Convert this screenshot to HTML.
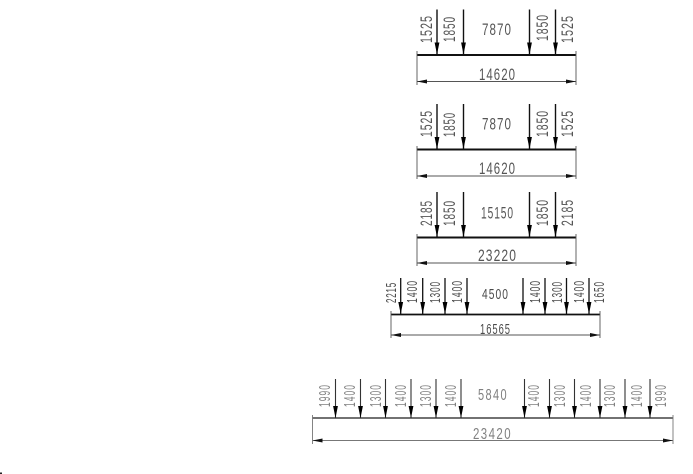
<!DOCTYPE html>
<html><head><meta charset="utf-8"><style>
html,body{margin:0;padding:0;background:#fff;width:693px;height:474px;overflow:hidden}
svg{display:block}
text{font-family:"Liberation Sans",sans-serif;fill:#555;font-size:16.5px;letter-spacing:1.5px}
.s{font-size:14.5px;fill:#4a4a4a}
.l{fill:#808080;font-size:16px;letter-spacing:2px}
</style></head><body>
<svg width="693" height="474" viewBox="0 0 693 474" xmlns="http://www.w3.org/2000/svg">
<defs>
<path id="a" d="M0 0V-45" stroke="#111" stroke-width="1.4" fill="none"/>
<path id="h" d="M-2.4 -12H2.4L0 0Z" fill="#000"/>
<path id="dl" d="M0 0L10 -2V2Z" fill="#111"/>
<path id="dr" d="M0 0L-10 -2V2Z" fill="#111"/>
</defs>
<rect x="0" y="472.5" width="2" height="1.5" fill="#222"/>

<!-- 1 -->
<g>
<path d="M417 55H576" stroke="#111" stroke-width="2"/>
<path d="M417 51V85M576 51V85M417 81.5H576" stroke="#555" stroke-width=".9" fill="none"/>
<g transform="translate(0,54.5)"><use href="#a" x="437"/><use href="#h" x="437"/><use href="#a" x="463.5"/><use href="#h" x="463.5"/><use href="#a" x="529.5"/><use href="#h" x="529.5"/><use href="#a" x="555.5"/><use href="#h" x="555.5"/></g>
<use href="#dl" x="417" y="81.5"/><use href="#dr" x="576" y="81.5"/>
<text transform="translate(432,43) rotate(-90)" textLength="28" lengthAdjust="spacingAndGlyphs">1525</text>
<text transform="translate(455,42) rotate(-90)" textLength="26" lengthAdjust="spacingAndGlyphs">1850</text>
<text transform="translate(548,41) rotate(-90)" textLength="27" lengthAdjust="spacingAndGlyphs">1850</text>
<text transform="translate(573,43) rotate(-90)" textLength="28" lengthAdjust="spacingAndGlyphs">1525</text>
<text x="482" y="35" textLength="30" lengthAdjust="spacingAndGlyphs">7870</text>
<text x="479" y="80" textLength="37" lengthAdjust="spacingAndGlyphs">14620</text>
</g>

<!-- 2 -->
<g>
<path d="M417 149.5H576" stroke="#111" stroke-width="2"/>
<path d="M417 146V179M576 146V179M417 176H576" stroke="#555" stroke-width=".9" fill="none"/>
<g transform="translate(0,149)"><use href="#a" x="437"/><use href="#h" x="437"/><use href="#a" x="463.5"/><use href="#h" x="463.5"/><use href="#a" x="529.5"/><use href="#h" x="529.5"/><use href="#a" x="555.5"/><use href="#h" x="555.5"/></g>
<use href="#dl" x="417" y="176"/><use href="#dr" x="576" y="176"/>
<text transform="translate(432,137) rotate(-90)" textLength="27" lengthAdjust="spacingAndGlyphs">1525</text>
<text transform="translate(455,137) rotate(-90)" textLength="25" lengthAdjust="spacingAndGlyphs">1850</text>
<text transform="translate(548,137) rotate(-90)" textLength="27" lengthAdjust="spacingAndGlyphs">1850</text>
<text transform="translate(573,137) rotate(-90)" textLength="27" lengthAdjust="spacingAndGlyphs">1525</text>
<text x="482" y="129.5" textLength="30" lengthAdjust="spacingAndGlyphs">7870</text>
<text x="479" y="174" textLength="37" lengthAdjust="spacingAndGlyphs">14620</text>
</g>

<!-- 3 -->
<g>
<path d="M417 237.5H576" stroke="#111" stroke-width="2"/>
<path d="M417 234V266M576 234V266M417 263H576" stroke="#555" stroke-width=".9" fill="none"/>
<g transform="translate(0,237)"><use href="#a" x="437" y="0"/><use href="#h" x="437"/><use href="#a" x="463.5"/><use href="#h" x="463.5"/><use href="#a" x="529.5"/><use href="#h" x="529.5"/><use href="#a" x="555.5"/><use href="#h" x="555.5"/></g>
<use href="#dl" x="417" y="263"/><use href="#dr" x="576" y="263"/>
<text transform="translate(432,226) rotate(-90)" textLength="26" lengthAdjust="spacingAndGlyphs">2185</text>
<text transform="translate(455,226) rotate(-90)" textLength="26" lengthAdjust="spacingAndGlyphs">1850</text>
<text transform="translate(548,226) rotate(-90)" textLength="27" lengthAdjust="spacingAndGlyphs">1850</text>
<text transform="translate(573,226) rotate(-90)" textLength="27" lengthAdjust="spacingAndGlyphs">2185</text>
<text x="481" y="218.5" textLength="33" lengthAdjust="spacingAndGlyphs">15150</text>
<text x="478" y="261" textLength="39" lengthAdjust="spacingAndGlyphs">23220</text>
</g>

<!-- 4 -->
<g>
<path d="M391 314.5H600" stroke="#111" stroke-width="1.8"/>
<path d="M391 311V338M600 311V338M391 335H600" stroke="#555" stroke-width=".9" fill="none"/>
<g transform="translate(0,314)">
<path d="M400.7 0V-36M422.7 0V-36M445 0V-36M467 0V-36M523 0V-36M545 0V-36M566.5 0V-36M589 0V-36" stroke="#111" stroke-width="1.3" fill="none"/>
<use href="#h" x="400.7"/><use href="#h" x="422.7"/><use href="#h" x="445"/><use href="#h" x="467"/><use href="#h" x="523"/><use href="#h" x="545"/><use href="#h" x="566.5"/><use href="#h" x="589"/></g>
<use href="#dl" x="391" y="335"/><use href="#dr" x="600" y="335"/>
<text class="s" transform="translate(396,303) rotate(-90)" textLength="21" lengthAdjust="spacingAndGlyphs">2215</text>
<text class="s" transform="translate(417,303) rotate(-90)" textLength="23" lengthAdjust="spacingAndGlyphs">1400</text>
<text class="s" transform="translate(440,303) rotate(-90)" textLength="22" lengthAdjust="spacingAndGlyphs">1300</text>
<text class="s" transform="translate(462,303) rotate(-90)" textLength="23" lengthAdjust="spacingAndGlyphs">1400</text>
<text class="s" transform="translate(540,303) rotate(-90)" textLength="23" lengthAdjust="spacingAndGlyphs">1400</text>
<text class="s" transform="translate(562,303) rotate(-90)" textLength="22" lengthAdjust="spacingAndGlyphs">1300</text>
<text class="s" transform="translate(584,303) rotate(-90)" textLength="23" lengthAdjust="spacingAndGlyphs">1400</text>
<text class="s" transform="translate(604,303) rotate(-90)" textLength="22" lengthAdjust="spacingAndGlyphs">1650</text>
<text class="s" x="482" y="299" textLength="27" lengthAdjust="spacingAndGlyphs">4500</text>
<text class="s" x="480" y="334" textLength="31" lengthAdjust="spacingAndGlyphs">16565</text>
</g>

<!-- 5 -->
<g>
<path d="M312.5 418H673" stroke="#444" stroke-width="1.4"/>
<path d="M312.5 415V444M673 415V444M312.5 440.5H673" stroke="#777" stroke-width=".9" fill="none"/>
<g transform="translate(0,418)">
<path d="M335.5 0V-39M360.5 0V-39M385.5 0V-39M411 0V-39M436 0V-39M461 0V-39M524.5 0V-39M549.5 0V-39M574.5 0V-39M600 0V-39M625 0V-39M650 0V-39" stroke="#333" stroke-width="1.1" fill="none"/>
<use href="#h" x="335.5"/><use href="#h" x="360.5"/><use href="#h" x="385.5"/><use href="#h" x="411"/><use href="#h" x="436"/><use href="#h" x="461"/><use href="#h" x="524.5"/><use href="#h" x="549.5"/><use href="#h" x="574.5"/><use href="#h" x="600"/><use href="#h" x="625"/><use href="#h" x="650"/></g>
<use href="#dl" x="312.5" y="440.5"/><use href="#dr" x="673" y="440.5"/>
<text class="l" transform="translate(330,407) rotate(-90)" textLength="23" lengthAdjust="spacingAndGlyphs">1990</text>
<text class="l" transform="translate(355,407) rotate(-90)" textLength="23" lengthAdjust="spacingAndGlyphs">1400</text>
<text class="l" transform="translate(381,407) rotate(-90)" textLength="23" lengthAdjust="spacingAndGlyphs">1300</text>
<text class="l" transform="translate(406,407) rotate(-90)" textLength="23" lengthAdjust="spacingAndGlyphs">1400</text>
<text class="l" transform="translate(431,407) rotate(-90)" textLength="23" lengthAdjust="spacingAndGlyphs">1300</text>
<text class="l" transform="translate(456,407) rotate(-90)" textLength="23" lengthAdjust="spacingAndGlyphs">1400</text>
<text class="l" transform="translate(539,407) rotate(-90)" textLength="23" lengthAdjust="spacingAndGlyphs">1400</text>
<text class="l" transform="translate(565,407) rotate(-90)" textLength="23" lengthAdjust="spacingAndGlyphs">1300</text>
<text class="l" transform="translate(591,407) rotate(-90)" textLength="23" lengthAdjust="spacingAndGlyphs">1400</text>
<text class="l" transform="translate(615,407) rotate(-90)" textLength="23" lengthAdjust="spacingAndGlyphs">1300</text>
<text class="l" transform="translate(642,407) rotate(-90)" textLength="23" lengthAdjust="spacingAndGlyphs">1400</text>
<text class="l" transform="translate(666,407) rotate(-90)" textLength="23" lengthAdjust="spacingAndGlyphs">1990</text>
<text class="l" x="478" y="400" textLength="30" lengthAdjust="spacingAndGlyphs">5840</text>
<text class="l" x="473" y="439" textLength="39" lengthAdjust="spacingAndGlyphs">23420</text>
</g>
</svg>
</body></html>
